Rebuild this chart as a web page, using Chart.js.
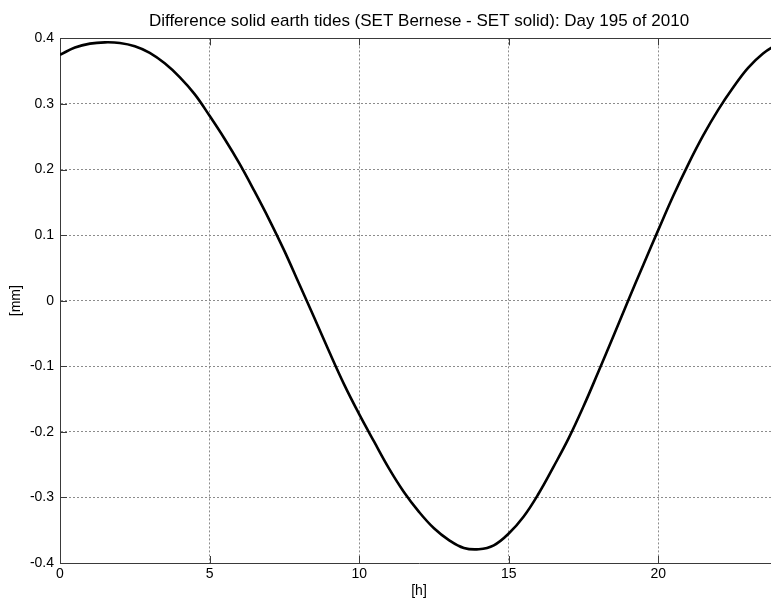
<!DOCTYPE html>
<html>
<head>
<meta charset="utf-8">
<title>Difference solid earth tides</title>
<script src="https://cdn.jsdelivr.net/npm/chart.js@4.4.1/dist/chart.umd.min.js"></script>
<style>
    html, body { margin: 0; padding: 0; background: #fff; overflow: hidden; }
    #wrap { width: 771px; height: 601px; overflow: hidden; }
</style>
</head>
<body>
<div id="wrap"><canvas id="tides" width="780" height="601"></canvas></div>
<script>
// Values (hours of day 195, difference in mm)
const hours = [
    0, 0.5, 1, 1.5, 2, 2.5, 3, 3.5, 4, 4.5, 5, 5.5, 6, 6.5, 7, 7.5, 8, 8.5,
    9, 9.5, 10, 10.5, 11, 11.5, 12, 12.5, 13, 13.5, 14, 14.5, 15, 15.5, 16, 16.5,
    17, 17.5, 18, 18.5, 19, 19.5, 20, 20.5, 21, 21.5, 22, 22.5, 23, 23.5, 24
];
const diffMm = [
    0.375, 0.386, 0.392, 0.394, 0.393, 0.388, 0.378, 0.362, 0.341, 0.315, 0.282, 0.247,
    0.209, 0.167, 0.123, 0.076, 0.025, -0.026, -0.078, -0.128, -0.173, -0.215, -0.256, -0.292,
    -0.322, -0.347, -0.365, -0.377, -0.379, -0.373, -0.355, -0.329, -0.294, -0.253, -0.210, -0.161,
    -0.108, -0.054, 0.001, 0.055, 0.108, 0.160, 0.208, 0.252, 0.291, 0.325, 0.355, 0.377, 0.392
];
const xTicks = [0, 5, 10, 15, 20];
const yTicks = [-0.4, -0.3, -0.2, -0.1, 0, 0.1, 0.2, 0.3, 0.4];

const titleText = 'Difference solid earth tides (SET Bernese - SET solid): Day 195 of 2010';
const axisColor = '#3a3a3a';
const gridColor = '#8c8c8c';
const fontFamily = '"Liberation Sans", Arial, Helvetica, sans-serif';

// MATLAB style frame: inward tick marks and the top edge of the box
const matlabFrame = {
    id: 'matlabFrame',
    beforeDatasetsDraw(chart) {
        const ctx = chart.ctx;
        const area = chart.chartArea;
        const xs = chart.scales.x;
        const ys = chart.scales.y;
        const len = 7;
        ctx.save();
        ctx.strokeStyle = axisColor;
        ctx.lineWidth = 1;
        ctx.beginPath();
        const top = Math.round(area.top) + 0.5;
        ctx.moveTo(area.left, top);
        ctx.lineTo(area.right, top);
        xTicks.forEach(v => {
            const px = Math.round(xs.getPixelForValue(v)) + 0.5;
            ctx.moveTo(px, area.bottom);
            ctx.lineTo(px, area.bottom - len);
            ctx.moveTo(px, area.top);
            ctx.lineTo(px, area.top + len);
        });
        yTicks.forEach(v => {
            const py = Math.round(ys.getPixelForValue(v)) + 0.5;
            ctx.moveTo(area.left, py);
            ctx.lineTo(area.left + len, py);
            ctx.moveTo(area.right, py);
            ctx.lineTo(area.right - len, py);
        });
        ctx.stroke();
        ctx.restore();
    }
};

const ctx = document.getElementById('tides').getContext('2d');
new Chart(ctx, {
    type: 'line',
    data: {
        datasets: [{
            data: hours.map((h, i) => ({ x: h, y: diffMm[i] })),
            borderColor: '#000',
            borderWidth: 2.6,
            pointRadius: 0,
            tension: 0.4,
            fill: false
        }]
    },
    options: {
        responsive: false,
        animation: false,
        layout: { padding: { left: 0, right: 2, top: 0, bottom: 0 } },
        plugins: {
            legend: { display: false },
            tooltip: { enabled: false },
            title: {
                display: true,
                text: titleText,
                fullSize: false,
                color: '#000',
                font: { family: fontFamily, size: 17, weight: 'normal', lineHeight: 1.2 },
                padding: { top: 11, bottom: 7 }
            }
        },
        scales: {
            x: {
                type: 'linear',
                min: 0,
                max: 24,
                afterFit: s => { s.height = 38; },
                afterBuildTicks: s => { s.ticks = xTicks.map(v => ({ value: v })); },
                ticks: {
                    color: '#000',
                    padding: 3,
                    maxRotation: 0,
                    font: { family: fontFamily, size: 14 },
                    callback: v => String(v)
                },
                grid: { color: gridColor, lineWidth: 1, drawTicks: false },
                border: { display: true, color: axisColor, width: 1, dash: [2, 2] },
                title: {
                    display: true,
                    text: '[h]',
                    color: '#000',
                    font: { family: fontFamily, size: 14 },
                    padding: { top: 0, bottom: 1 }
                }
            },
            y: {
                type: 'linear',
                min: -0.4,
                max: 0.4,
                afterFit: s => { s.width = 60; },
                afterBuildTicks: s => { s.ticks = yTicks.map(v => ({ value: v })); },
                ticks: {
                    color: '#000',
                    padding: 6,
                    font: { family: fontFamily, size: 14 },
                    callback: v => String(+Number(v).toFixed(1))
                },
                grid: { color: gridColor, lineWidth: 1, drawTicks: false },
                border: { display: true, color: axisColor, width: 1, dash: [2, 2] },
                title: {
                    display: true,
                    text: '[mm]',
                    color: '#000',
                    font: { family: fontFamily, size: 14 },
                    padding: { top: 8, bottom: 0 }
                }
            }
        }
    },
    plugins: [matlabFrame]
});
</script>
</body>
</html>
